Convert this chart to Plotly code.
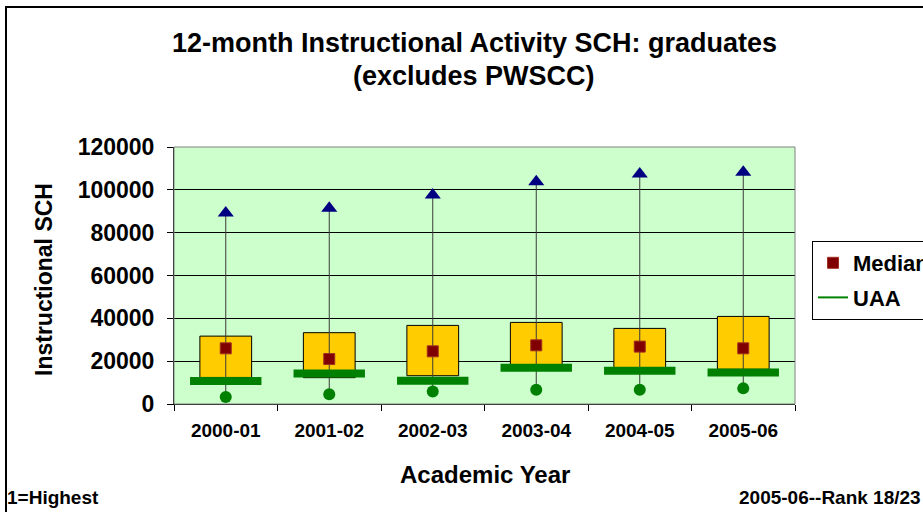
import plotly.graph_objects as go

# ---- data ----
years = ["2000-01", "2001-02", "2002-03", "2003-04", "2004-05", "2005-06"]
max_sch = [89200, 91400, 97600, 103800, 107400, 108200]
q3_sch = [31700, 33300, 36700, 38100, 35300, 40900]
q1_sch = [12400, 12300, 13200, 15900, 16200, 16200]
median_sch = [26000, 21000, 24600, 27400, 26800, 26000]
uaa_sch = [10700, 14200, 10800, 16900, 15500, 14700]
min_sch = [3300, 4500, 5800, 6700, 6700, 7300]
y_ticks = [0, 20000, 40000, 60000, 80000, 100000, 120000]
y_tick_labels = ["0", "20000", "40000", "60000", "80000", "100000", "120000"]

# ---- layout geometry (pixels) ----
W, H = 923, 512
L, R, T, B = 174, 795, 147, 404
PW, PH = R - L, B - T


def px(x):
    return (x - L) / PW


def py(y):
    return (B - y) / PH


FONT = "Liberation Sans, Arial, sans-serif"

fig = go.Figure()

# whiskers (min to max)
wx, wy = [], []
for c, lo, hi in zip(years, min_sch, max_sch):
    wx += [c, c, None]
    wy += [lo, hi, None]
fig.add_trace(go.Scatter(x=wx, y=wy, mode="lines", line=dict(color="#3a3a3a", width=1),
                         showlegend=False, hoverinfo="skip"))

# boxes q1..q3
fig.add_trace(go.Bar(x=years, y=[h - l for h, l in zip(q3_sch, q1_sch)], base=q1_sch,
                     width=0.5, marker=dict(color="#FFCC00", line=dict(color="#000000", width=1)),
                     showlegend=False))

# UAA thick dash
fig.add_trace(go.Scatter(x=years, y=uaa_sch, mode="markers", showlegend=False,
                         marker=dict(symbol="line-ew", size=51,
                                     line=dict(color="#008000", width=8))))

# median
fig.add_trace(go.Scatter(x=years, y=median_sch, mode="markers", name="Median",
                         legendgroup="a",
                         marker=dict(symbol="square", size=11, color="#800000",
                                     line=dict(color="#A03020", width=1))))
# UAA legend entry
fig.add_trace(go.Scatter(x=[None], y=[None], mode="lines", name="UAA", legendgroup="b",
                         line=dict(color="#008000", width=2)))

# max triangles
fig.add_trace(go.Scatter(x=years, y=max_sch, mode="markers", showlegend=False,
                         marker=dict(symbol="triangle-up", size=14, color="#000080")))
# min dots
fig.add_trace(go.Scatter(x=years, y=min_sch, mode="markers", showlegend=False,
                         marker=dict(symbol="circle", size=12, color="#008000")))

fig.update_layout(
    width=W, height=H,
    margin=dict(l=L, r=W - R, t=T, b=H - B, autoexpand=False, pad=0),
    paper_bgcolor="white",
    plot_bgcolor="#CCFFCC",
    font=dict(family=FONT, color="#000000"),
    bargap=0.5,
    legend=dict(x=px(812), y=py(241), xanchor="left", yanchor="top",
                bgcolor="white", bordercolor="#000000", borderwidth=1,
                font=dict(family=FONT, size=22, weight="bold"),
                itemwidth=30, tracegroupgap=3),
    xaxis=dict(type="category", categoryorder="array", categoryarray=years,
               range=[-0.5, 5.5], showgrid=False, showline=True, linecolor="#000000",
               linewidth=1, mirror=False, ticks="outside", tickson="boundaries",
               ticklen=6, tickcolor="#000000",
               tickfont=dict(family=FONT, size=19, weight="bold"),
               ticklabelstandoff=9),
    yaxis=dict(range=[0, 120000], tickvals=y_ticks, ticktext=y_tick_labels,
               showgrid=True, gridcolor="#000000", gridwidth=1,
               showline=True, linecolor="#000000", linewidth=1,
               ticks="outside", ticklen=6, tickcolor="#000000",
               tickfont=dict(family=FONT, size=23, weight="bold"),
               ticklabelstandoff=8, zeroline=False),
    shapes=[
        dict(type="rect", xref="paper", yref="paper", x0=0, x1=1, y0=0, y1=1,
             line=dict(color="#808080", width=1), fillcolor="rgba(0,0,0,0)", layer="above"),
        dict(type="rect", xref="paper", yref="paper", x0=px(6), x1=px(W + 20),
             y0=py(H + 20), y1=py(7), line=dict(color="#000000", width=2),
             fillcolor="rgba(0,0,0,0)"),
    ],
    annotations=[
        dict(text="12-month Instructional Activity SCH: graduates", x=px(474), y=py(43),
             xref="paper", yref="paper", showarrow=False, xanchor="center", yanchor="middle",
             font=dict(family=FONT, size=27, weight="bold")),
        dict(text="(excludes PWSCC)", x=px(474), y=py(76),
             xref="paper", yref="paper", showarrow=False, xanchor="center", yanchor="middle",
             font=dict(family=FONT, size=27, weight="bold")),
        dict(text="Instructional SCH", x=px(44), y=py(280), textangle=-90,
             xref="paper", yref="paper", showarrow=False, xanchor="center", yanchor="middle",
             font=dict(family=FONT, size=23, weight="bold")),
        dict(text="Academic Year", x=px(485), y=py(474),
             xref="paper", yref="paper", showarrow=False, xanchor="center", yanchor="middle",
             font=dict(family=FONT, size=24, weight="bold")),
        dict(text="1=Highest", x=px(5), y=py(497),
             xref="paper", yref="paper", showarrow=False, xanchor="left", yanchor="middle",
             font=dict(family=FONT, size=19, weight="bold")),
        dict(text="2005-06--Rank 18/23", x=px(923), y=py(497),
             xref="paper", yref="paper", showarrow=False, xanchor="right", yanchor="middle",
             font=dict(family=FONT, size=19, weight="bold")),
    ],
)

fig.write_html("out.html", config={"displayModeBar": False},
               post_script="document.body.style.margin='0';document.body.style.overflow='hidden';")
